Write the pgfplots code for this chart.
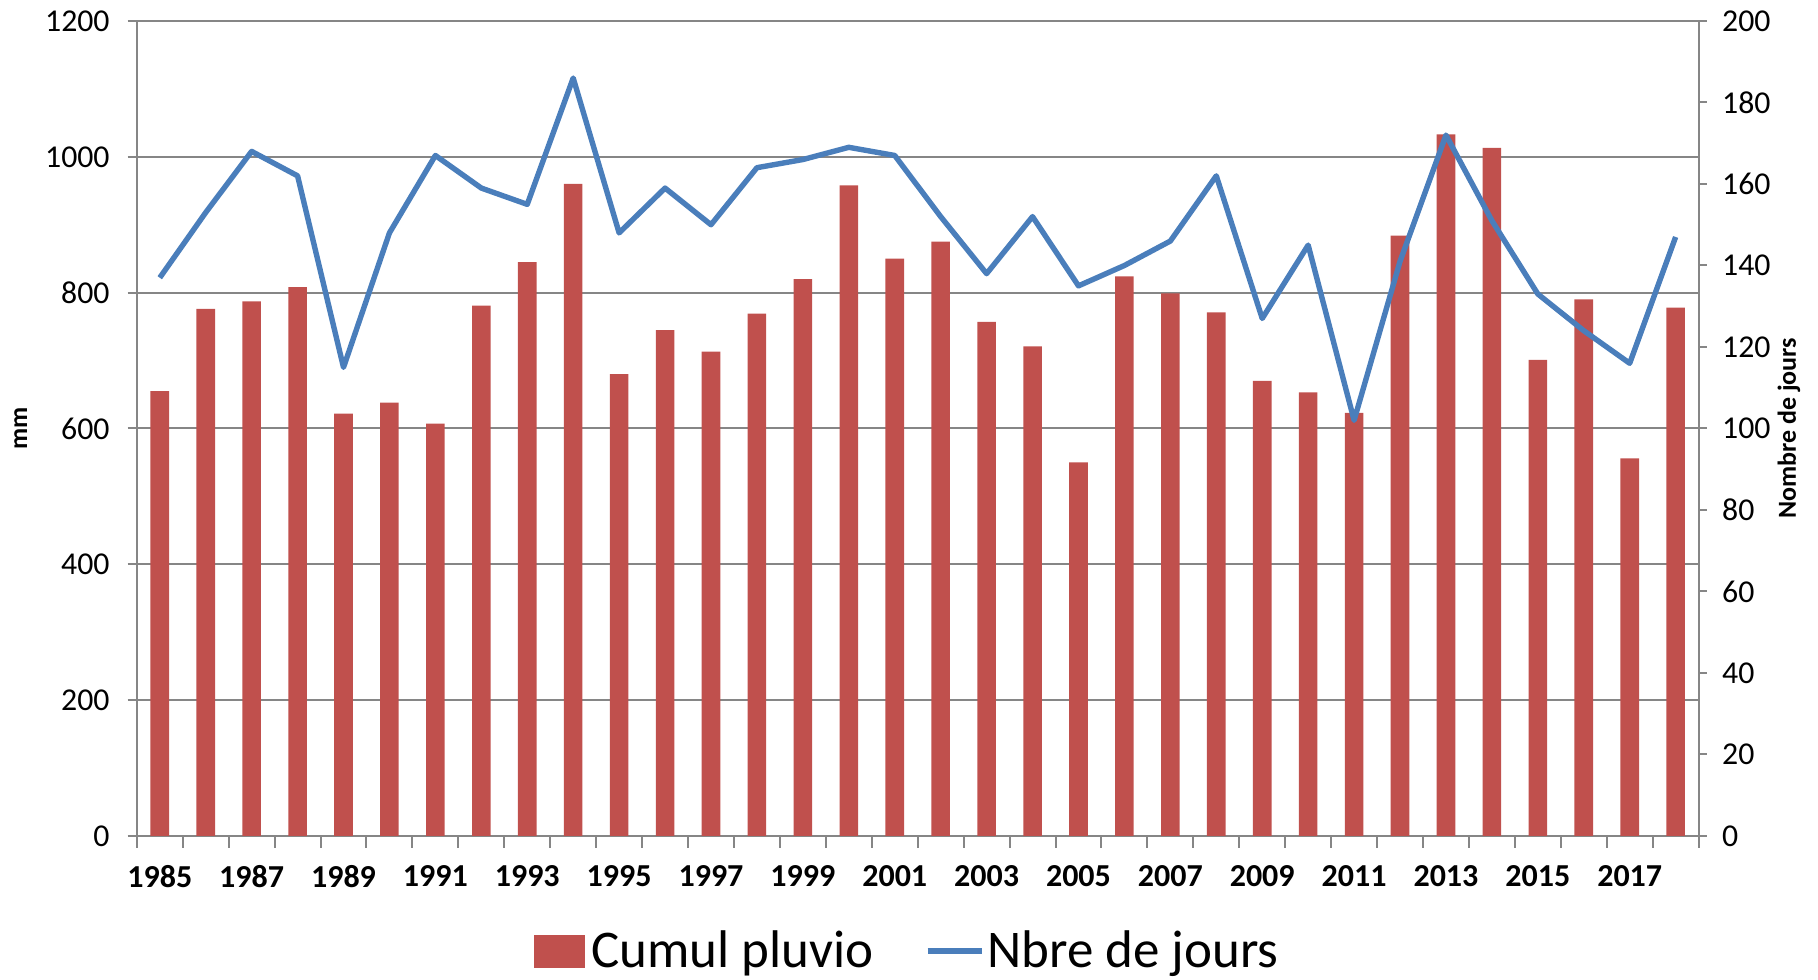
\documentclass[border=0pt]{standalone}
\usepackage{pgfplots}
\pgfplotsset{compat=1.18}
\usepackage{fontspec}
\setmainfont{Carlito}
\definecolor{barred}{HTML}{C0504D}
\definecolor{lineblue}{HTML}{4A7EBB}
\definecolor{gridgray}{HTML}{868686}
\pgfplotsset{
  lineleg/.style={legend image code/.code={\draw[##1] (0pt,0pt) -- (27pt,0pt);}},
  barleg/.style={legend image code/.code={\fill[barred] (0pt,-8pt) rectangle (25pt,8pt); \path (26.7pt,0pt);}},
}
\begin{document}
\begin{tikzpicture}
\useasboundingbox (0,0) rectangle (909pt,489.5pt);
\begin{axis}[
  at={(68.4pt,71.5pt)}, anchor=south west,
  width=780.9pt, height=407.5pt, scale only axis,
  xmin=-0.5, xmax=33.5, ymin=0, ymax=1200,
  enlargelimits=false,
  axis x line*=bottom, axis y line*=left,
  axis line style={gridgray, line width=1pt},
  tick align=outside,
  tick style={gridgray, line width=1pt},
  major tick length=4.6pt,
  minor tick length=5.8pt,
  xtick={0,2,...,32},
  xticklabels={1985,1987,1989,1991,1993,1995,1997,1999,2001,2003,2005,2007,2009,2011,2013,2015,2017},
  major x tick style={draw=none},
  minor xtick={-0.5,0.5,...,33.5},
  ytick={0,200,...,1200},
  ymajorgrids,
  grid style={gridgray, line width=1pt},
  /pgf/number format/assume math mode=true,
  /pgf/number format/1000 sep={},
  yticklabel style={font=\fontsize{15.9}{18}\selectfont, inner sep=0pt, xshift=-8.8pt},
  xticklabel style={font=\fontsize{16}{19}\bfseries, inner sep=0pt, yshift=-10pt},
  every axis y label/.style={at={(axis description cs:-0.0743,0.5)}, rotate=90, anchor=center, font=\fontsize{13}{15}\bfseries},
  ylabel={mm},
]
\addplot[ybar, fill=barred, draw=none, bar width=9.3pt] coordinates {
(0,655) (1,776) (2,787) (3,808) (4,622) (5,638) (6,607) (7,781) (8,845) (9,960)
(10,680) (11,745) (12,713) (13,769) (14,820) (15,958) (16,850) (17,875) (18,757) (19,721)
(20,550) (21,824) (22,799) (23,771) (24,670) (25,653) (26,623) (27,884) (28,1033) (29,1013)
(30,701) (31,790) (32,556) (33,778)
};
\end{axis}
\begin{axis}[
  at={(68.4pt,71.5pt)}, anchor=south west,
  width=780.9pt, height=407.5pt, scale only axis,
  xmin=-0.5, xmax=33.5, ymin=0, ymax=200,
  enlargelimits=false,
  axis x line=none, axis y line*=right,
  axis line style={gridgray, line width=1pt},
  tick align=outside,
  tick style={gridgray, line width=1pt},
  major tick length=4pt,
  ytick={0,20,...,200},
  /pgf/number format/assume math mode=true,
  yticklabel style={font=\fontsize{15.9}{18}\selectfont, inner sep=0pt, xshift=7.6pt},
  every axis y label/.style={at={(axis description cs:1.0579,0.5)}, rotate=90, anchor=center, font=\fontsize{13}{15}\bfseries},
  ylabel={Nombre de jours},
  legend columns=2,
  legend style={at={(0.4937,-0.141)}, anchor=center, draw=none, fill=none,
    font=\fontsize{26.5}{30}\selectfont,
    nodes={inner sep=1.5pt},
    /tikz/every even column/.append style={column sep=24pt}},
]
\addlegendimage{barleg}
\addlegendentry{Cumul pluvio}
\addplot[lineblue, line width=2.7pt, line join=round, lineleg] coordinates {
(0,137) (1,153) (2,168) (3,162) (4,115) (5,148) (6,167) (7,159) (8,155) (9,186)
(10,148) (11,159) (12,150) (13,164) (14,166) (15,169) (16,167) (17,152) (18,138) (19,152)
(20,135) (21,140) (22,146) (23,162) (24,127) (25,145) (26,102) (27,141) (28,172) (29,151)
(30,133) (31,124) (32,116) (33,147)
};
\addlegendentry{Nbre de jours}
\end{axis}
\end{tikzpicture}
\end{document}
